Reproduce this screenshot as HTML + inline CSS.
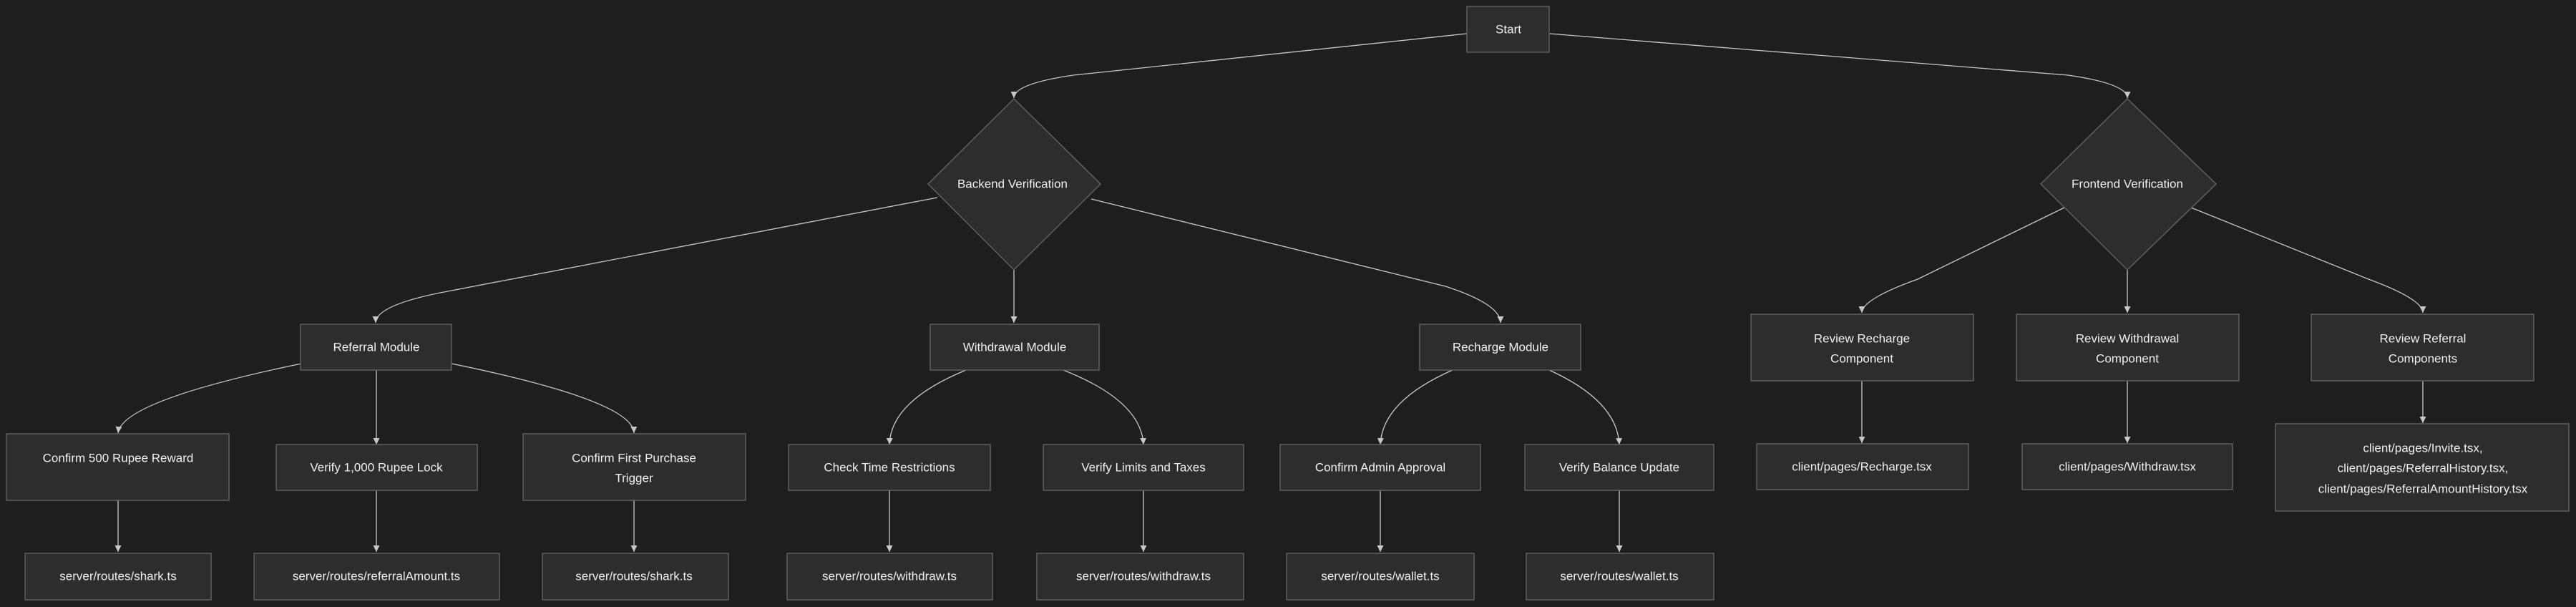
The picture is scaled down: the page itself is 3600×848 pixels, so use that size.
<!DOCTYPE html>
<html><head><meta charset="utf-8"><style>
html,body{margin:0;padding:0;background:#1e1e1e;}
svg{display:block}
text{font-family:"Liberation Sans",sans-serif;font-size:17px;fill:#f0f0f0;text-anchor:middle;dominant-baseline:central}
.n{fill:#2d2d2d;stroke:#5f5f5f;stroke-width:1.5}
.e{fill:none;stroke:#c8c8c8;stroke-width:1.3}
</style></head><body>
<svg width="3600" height="848" viewBox="0 0 3600 848" xmlns="http://www.w3.org/2000/svg">
<defs><marker id="a" viewBox="0 0 10 10" refX="10" refY="5" markerWidth="9" markerHeight="9" orient="auto-start-reverse" markerUnits="userSpaceOnUse"><path d="M0,0L10,5L0,10z" fill="#c8c8c8"/></marker></defs>
<rect width="3600" height="848" fill="#1e1e1e"/>
<g class="edges">
<path class="e" marker-end="url(#a)" d="M2050,47 L1500,105 Q1417,117 1417,137"/>
<path class="e" marker-end="url(#a)" d="M2165,47 L2890,105 Q2973,117 2973,137"/>
<path class="e" marker-end="url(#a)" d="M1310,276 L610,410 Q525,428 525,451"/>
<path class="e" marker-end="url(#a)" d="M1417,377 L1417,451"/>
<path class="e" marker-end="url(#a)" d="M1525,278 L2020,400 Q2097,425 2097,451"/>
<path class="e" marker-end="url(#a)" d="M2885,290 L2680,390 Q2602,418 2602,437"/>
<path class="e" marker-end="url(#a)" d="M2973,377 L2973,437"/>
<path class="e" marker-end="url(#a)" d="M3062,290 L3310,390 Q3386,418 3386,437"/>
<path class="e" marker-end="url(#a)" d="M421,508 Q170,560 165,605"/>
<path class="e" marker-end="url(#a)" d="M526,517 L526,621"/>
<path class="e" marker-end="url(#a)" d="M631,508 Q885,560 886,605"/>
<path class="e" marker-end="url(#a)" d="M1350,517 Q1245,560 1243,621"/>
<path class="e" marker-end="url(#a)" d="M1486,517 Q1595,560 1598,621"/>
<path class="e" marker-end="url(#a)" d="M2030,517 Q1932,560 1929,621"/>
<path class="e" marker-end="url(#a)" d="M2165,517 Q2260,560 2263,621"/>
<path class="e" marker-end="url(#a)" d="M165,698 L165,771"/>
<path class="e" marker-end="url(#a)" d="M526,684 L526,771"/>
<path class="e" marker-end="url(#a)" d="M886,698 L886,771"/>
<path class="e" marker-end="url(#a)" d="M1243,684 L1243,771"/>
<path class="e" marker-end="url(#a)" d="M1598,684 L1598,771"/>
<path class="e" marker-end="url(#a)" d="M1929,684 L1929,771"/>
<path class="e" marker-end="url(#a)" d="M2263,684 L2263,771"/>
<path class="e" marker-end="url(#a)" d="M2602,532 L2602,619"/>
<path class="e" marker-end="url(#a)" d="M2973,532 L2973,619"/>
<path class="e" marker-end="url(#a)" d="M3386,532 L3386,591"/>
</g>
<rect class="n" x="2050" y="9" width="115" height="64"/><text x="2108" y="41">Start</text>
<polygon class="n" points="1417,138 1538,257 1417,377 1297,257"/><text x="1415" y="257">Backend Verification</text>
<polygon class="n" points="2973,138 3097,257 2973,377 2852,257"/><text x="2973" y="257">Frontend Verification</text>

<rect class="n" x="420" y="453" width="211" height="64"/><text x="526" y="485">Referral Module</text>
<rect class="n" x="1300" y="453" width="236" height="64"/><text x="1418" y="485">Withdrawal Module</text>
<rect class="n" x="1984" y="453" width="225" height="64"/><text x="2097" y="485">Recharge Module</text>

<rect class="n" x="2447" y="439" width="311" height="93"/><text x="2602" y="473">Review Recharge</text><text x="2602" y="501">Component</text>
<rect class="n" x="2818" y="439" width="311" height="93"/><text x="2973" y="473">Review Withdrawal</text><text x="2973" y="501">Component</text>
<rect class="n" x="3230" y="439" width="311" height="93"/><text x="3386" y="473">Review Referral</text><text x="3386" y="501">Components</text>

<rect class="n" x="9" y="606" width="311" height="93"/><text x="165" y="640">Confirm 500 Rupee Reward</text>
<rect class="n" x="386" y="621" width="281" height="64"/><text x="526" y="653">Verify 1,000 Rupee Lock</text>
<rect class="n" x="731" y="606" width="311" height="93"/><text x="886" y="640">Confirm First Purchase</text><text x="886" y="668">Trigger</text>
<rect class="n" x="1102" y="621" width="282" height="64"/><text x="1243" y="653">Check Time Restrictions</text>
<rect class="n" x="1458" y="621" width="280" height="64"/><text x="1598" y="653">Verify Limits and Taxes</text>
<rect class="n" x="1789" y="621" width="280" height="64"/><text x="1929" y="653">Confirm Admin Approval</text>
<rect class="n" x="2131" y="621" width="264" height="64"/><text x="2263" y="653">Verify Balance Update</text>

<rect class="n" x="2455" y="620" width="296" height="64"/><text x="2602" y="652">client/pages/Recharge.tsx</text>
<rect class="n" x="2826" y="620" width="294" height="64"/><text x="2973" y="652">client/pages/Withdraw.tsx</text>
<rect class="n" x="3180" y="592" width="410" height="122"/><text x="3386" y="626">client/pages/Invite.tsx,</text><text x="3386" y="654">client/pages/ReferralHistory.tsx,</text><text x="3386" y="683">client/pages/ReferralAmountHistory.tsx</text>

<rect class="n" x="35" y="773" width="260" height="65"/><text x="165" y="805">server/routes/shark.ts</text>
<rect class="n" x="355" y="773" width="343" height="65"/><text x="526" y="805">server/routes/referralAmount.ts</text>
<rect class="n" x="758" y="773" width="260" height="65"/><text x="886" y="805">server/routes/shark.ts</text>
<rect class="n" x="1100" y="773" width="287" height="65"/><text x="1243" y="805">server/routes/withdraw.ts</text>
<rect class="n" x="1449" y="773" width="289" height="65"/><text x="1598" y="805">server/routes/withdraw.ts</text>
<rect class="n" x="1798" y="773" width="262" height="65"/><text x="1929" y="805">server/routes/wallet.ts</text>
<rect class="n" x="2133" y="773" width="262" height="65"/><text x="2263" y="805">server/routes/wallet.ts</text>
</svg>
</body></html>
